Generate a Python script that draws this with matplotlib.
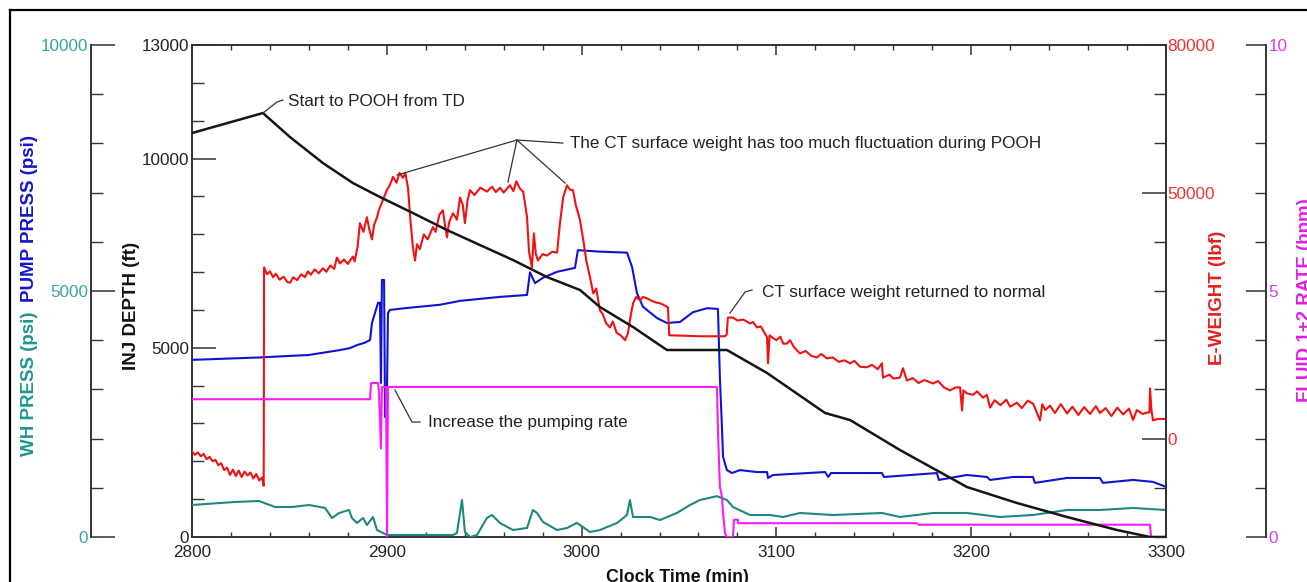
import matplotlib
matplotlib.use('Agg')
import matplotlib.pyplot as plt
from matplotlib.ticker import MultipleLocator, FixedLocator
from matplotlib.lines import Line2D

plt.rcParams['font.family'] = ['Liberation Sans', 'DejaVu Sans']

# ---------------- data ----------------
depth_t = [2800, 2836.4, 2850.3, 2867.2, 2882.6, 2896.5, 2913.4, 2930.9, 2947.8, 2964.8,
           2982.2, 2999.2, 3009.4, 3026.4, 3043.8, 3074.6, 3095.2, 3125.0, 3137.8, 3163.4,
           3197.8, 3223.5, 3249.2, 3274.8, 3291.8, 3300]
depth_ft = [10674, 11202, 10568, 9881, 9353, 8983, 8560, 8111, 7715, 7318,
            6869, 6526, 6077, 5548, 4941, 4941, 4333, 3276, 3091, 2299,
            1321, 898, 528, 185, 0, 0]

weight_t = [2800, 2801.5, 2803, 2804.5, 2806, 2807.5, 2809, 2810.5, 2812, 2813.5, 2815, 2816.5,
            2818, 2819.5, 2821, 2822.5, 2824, 2825.5, 2827, 2828.5, 2830, 2831.5, 2833, 2834.5,
            2836, 2836.8, 2837.0, 2838.5, 2840, 2841.6, 2843, 2845, 2847, 2849, 2850.3, 2852,
            2854, 2856, 2858, 2859.5, 2861, 2863, 2865, 2867.2, 2869, 2871, 2873, 2874.4, 2876,
            2878, 2880, 2882.6, 2883.5, 2885, 2886.2, 2888, 2889.8, 2891, 2892.4, 2893.5, 2895.0,
            2896, 2898.0, 2900, 2901.5, 2903.2, 2905, 2906.5, 2908.3, 2909.5, 2910.9, 2912,
            2913.4, 2914.5, 2915.5, 2917.0, 2919, 2921, 2923.7, 2925, 2927, 2928.8, 2930, 2930.9,
            2932, 2934.0, 2936, 2937.6, 2939, 2940.1, 2941.5, 2942.7, 2945, 2948, 2951.4, 2954,
            2956, 2958.1, 2960, 2963.2, 2965, 2966.5, 2968.4, 2970, 2972.0, 2973, 2974.5, 2975.5,
            2976.5, 2977.6, 2980, 2982.2, 2985, 2987.4, 2988.9, 2990.5, 2992.5, 2994, 2995.6,
            2997, 2999.2, 3001, 3002.5, 3004.3, 3006, 3007.5, 3009.4, 3011, 3012.5, 3014.6, 3016,
            3018, 3020, 3022.3, 3023.8, 3025, 3026.4, 3028, 3030.0, 3031.5, 3033.6, 3036, 3038,
            3040.2, 3042, 3044.3, 3045.0, 3060.8, 3073.6, 3074.5, 3075.1, 3077.7, 3080, 3083,
            3086.4, 3088, 3090, 3092, 3095.2, 3095.7, 3096.5, 3097.7, 3100, 3102, 3103.5, 3105.4,
            3107.0, 3109, 3112.1, 3115, 3118, 3120.8, 3123, 3126, 3129.0, 3132, 3135, 3137.8,
            3140, 3143, 3146.5, 3149, 3152, 3154.2, 3154.7, 3158, 3160, 3163.4, 3165.0, 3167.0,
            3170, 3173, 3176, 3180.4, 3183, 3186, 3189.1, 3192, 3194.3, 3195.3, 3196, 3197.8,
            3201, 3203, 3206.1, 3208, 3209.7, 3212, 3215, 3218, 3220, 3223.5, 3226, 3229, 3231.7,
            3233, 3235.3, 3236.5, 3238, 3240.5, 3243, 3246, 3249.2, 3252, 3255, 3258, 3261, 3264,
            3266.1, 3269, 3272, 3275, 3278, 3281, 3283.1, 3285, 3288, 3290.2, 3291.5, 3291.8,
            3292.5, 3293.3, 3296, 3300]
weight_lbf = [-2600, -3300, -2800, -3600, -3100, -4200, -3700, -4600, -4300, -5400, -5000, -6400,
              -5900, -7400, -6300, -7600, -6500, -7800, -6700, -7500, -6900, -8100, -7200, -8500,
              -7900, -9600, 34800, 33400, 34000, 32800, 33500, 32300, 32900, 31800, 31700, 32800,
              32200, 33400, 32800, 34000, 33300, 34400, 33600, 34600, 33900, 35200, 34500, 36800, 35600,
              36400, 35500, 37000, 36000, 39000, 43800, 42000, 45000, 42500, 40500, 43500, 45000,
              46500, 48500, 50500, 51500, 53200, 52000, 54000, 53000, 54000, 50900, 45000,
              38900, 36200, 39500, 38500, 41500, 40500, 43000, 42000, 45500, 46400, 43000, 40900,
              44000, 45800, 44500, 49000, 47500, 43800, 48500, 50500, 49500, 51000, 50200, 51200,
              50100, 51000, 50000, 51500, 50300, 52300, 50800, 50200, 45000, 38000, 34800, 41700,
              37500, 36200, 37500, 37200, 38000, 37800, 43800, 49000, 51500, 50600, 50500,
              47500, 44400, 40000, 36000, 32800, 29500, 30500, 26100, 25200, 23500, 22600, 23800,
              21500, 21000, 20000, 21400, 24500, 27500, 28800, 28100, 28800, 28500, 28000, 27700,
              27500, 27200, 26700, 21000, 20800, 20800, 21200, 24600, 24600, 24000, 24200,
              23400, 23700, 22600, 22800, 20600, 15300, 21000, 20600, 20000, 20700, 19300, 19300,
              20000, 18600, 17300, 17800, 16800, 16500, 17200, 16300, 16500, 15600, 15900, 15300,
              15800, 14600, 14500, 15000, 14100, 15300, 12400, 13000, 12200, 12400, 14300, 11800,
              12300, 11300, 11900, 11200, 11700, 10400, 9800, 10400, 10400, 5700, 9800, 9200,
              8900, 9600, 8300, 8900, 6300, 7800, 6800, 7900, 6500, 7300, 6200, 7700, 7100,
              6000, 3700, 7000, 5800, 6700, 5200, 7000, 5100, 6500, 4800, 6400, 5000, 6600,
              5200, 6200, 4600, 6300, 4900, 6100, 3800, 5800, 5000, 5300, 5300, 10200,
              6000, 3700, 4000, 4000]

pump_t = [2800, 2835, 2860, 2876, 2881.1, 2884.7, 2888.8, 2891.4, 2892.4, 2893.9, 2895.5, 2896.5,
          2897.0, 2897.5, 2898.6, 2899.1, 2899.9, 2900.6, 2901.6, 2910.4, 2927.3, 2937.6, 2958.1,
          2972.0, 2973.5, 2976.1, 2980.2, 2987.4, 2996.6, 2998.1, 3009.4, 3023.3, 3025.9, 3028.4,
          3031.5, 3038.7, 3043.8, 3050.5, 3057.2, 3064.4, 3070.0, 3071.0, 3072.1, 3072.6, 3074.6,
          3077.2, 3081.3, 3090.0, 3095.2, 3095.7, 3098.2, 3125.0, 3126.6, 3128.0, 3154.2, 3155.2,
          3182.4, 3183.4, 3197.8, 3208.1, 3209.7, 3221.5, 3231.7, 3232.7, 3249.2, 3266.1, 3267.6,
          3283.1, 3293.3, 3300]
pump_psi = [3600, 3650, 3700, 3800, 3840, 3900, 3950, 4005, 4350, 4550, 4760, 4760,
            3130, 5225, 5225, 2440, 2440, 4550, 4615, 4655, 4720, 4800, 4880,
            4920, 5380, 5160, 5270, 5390, 5470, 5830, 5800, 5780, 5490, 4960,
            4680, 4450, 4350, 4370, 4570, 4650, 4635, 3230, 2180, 1630, 1360,
            1300, 1360, 1320, 1320, 1200, 1260, 1320, 1220, 1300, 1300, 1220,
            1300, 1160, 1260, 1220, 1160, 1220, 1220, 1100, 1200, 1200, 1100,
            1160, 1120, 1020]

wh_t = [2800, 2822.1, 2834.4, 2842.6, 2851.3, 2860.1, 2868.3, 2871.9, 2875.5, 2880.6, 2882.1,
        2884.7, 2887.8, 2889.8, 2892.9, 2895.0, 2900.1, 2910.4, 2927, 2934.0, 2936.0, 2938.6,
        2940.1, 2942.7, 2946.3, 2951.4, 2954.0, 2958.1, 2964.8, 2972.0, 2975.0, 2977.1, 2980.2,
        2987.4, 2992.5, 2997.6, 3000.7, 3004.3, 3009.4, 3018.2, 3023.3, 3024.8, 3026.4, 3035.1,
        3040.2, 3048.9, 3055.6, 3060.8, 3069.5, 3074.6, 3077.7, 3086.4, 3096.7, 3103.4, 3112.1,
        3129.0, 3154.2, 3163.4, 3180.4, 3197.8, 3214.7, 3231.7, 3249.2, 3266.1, 3283.1, 3300]
wh_psi = [651, 712, 732, 610, 610, 650, 590, 386, 488, 549, 386,
          285, 386, 244, 407, 142, 41, 41, 41, 40, 81, 752,
          100, 0, 41, 386, 447, 285, 142, 183, 549, 488, 305,
          142, 183, 285, 203, 102, 142, 285, 447, 752, 407, 407,
          345, 488, 650, 752, 830, 752, 610, 447, 447, 407, 488,
          447, 488, 407, 488, 488, 407, 447, 549, 549, 590, 549]

rate_t = [2800, 2891.4, 2891.9, 2895.5, 2896.0, 2897.0, 2897.5, 2899.6, 2900.1, 2900.6,
          3069.5, 3070.0, 3071.0, 3072.1, 3072.6, 3073.6, 3074.6, 3077.7, 3078.2, 3080.3,
          3080.3, 3172, 3173, 3291.8, 3292.3, 3300]
rate_bpm = [2.80, 2.80, 3.13, 3.13, 2.95, 1.80, 3.05, 3.05, 0.0, 3.05,
            3.05, 2.17, 1.02, 0.81, 0.49, 0.08, 0.0, 0.0, 0.35, 0.35,
            0.28, 0.28, 0.25, 0.25, 0.0, 0.0]

x_ticks = [2800, 2900, 3000, 3100, 3200, 3300]
depth_ticks = [0, 5000, 10000, 13000]
press_ticks = [0, 5000, 10000]
weight_ticks = [0, 50000, 80000]
rate_ticks = [0, 5, 10]

# annotation texts (leader geometry in clock-time / depth units)
annotations = [
    ("Start to POOH from TD", [(2836.4, 11202), (2843.6, 11493), (2846.7, 11546)], (2849.5, 11519)),
    ("Increase the pumping rate", [(2904.2, 3884), (2912.9, 3038), (2917.0, 3038)], (2921.1, 3038)),
    ("CT surface weight returned to normal", [(3076.2, 5918), (3083.9, 6473), (3087.5, 6526)], (3092.6, 6473)),
]
fluct_text = "The CT surface weight has too much fluctuation during POOH"
fluct_hub = (2966.8, 10489)
fluct_targets = [(2905.2, 9564), (2962.2, 9379), (2991.5, 9353)]
fluct_end = (2990.4, 10409)
fluct_text_pos = (2994.0, 10409)

# ---------------- colours ----------------
C_BLACK = '#151515'
C_RED = '#f01212'
C_BLUE = '#1212d4'
C_TEAL = '#1f887e'
C_MAG = '#f81cf8'
C_SPINE = '#333333'

# ---------------- figure ----------------
W, H, DPI = 1307, 582, 100
fig = plt.figure(figsize=(W / DPI, H / DPI), dpi=DPI)
PL, PR, PT, PB = 192, 1166, 45, 537
ax = fig.add_axes([PL / W, 1 - PB / H, (PR - PL) / W, (PB - PT) / H])

FS = 12.3      # tick labels and notes
FSL = 13.5     # bold axis titles


def px2pt(p):
    return p * 72.0 / DPI


# figure frame (only top & left visible in the crop)
fig.add_artist(Line2D([10 / W, 10 / W], [0, 1 - 10 / H], transform=fig.transFigure, color='black', lw=1.6))
fig.add_artist(Line2D([10 / W, 1], [1 - 10 / H, 1 - 10 / H], transform=fig.transFigure, color='black', lw=1.6))

# main depth axis
ax.set_xlim(2800, 3300)
ax.set_ylim(0, 13000)
for s in ax.spines.values():
    s.set_color(C_SPINE)
    s.set_linewidth(1.4)
ax.xaxis.set_major_locator(FixedLocator(x_ticks))
ax.xaxis.set_minor_locator(MultipleLocator(20))
ax.yaxis.set_major_locator(FixedLocator(depth_ticks))
ax.yaxis.set_minor_locator(MultipleLocator(1000))
ax.tick_params(axis='x', which='major', direction='in', length=px2pt(10), width=1.1, top=True,
               labelsize=FS, colors=C_SPINE, labelcolor='#222222', pad=6)
ax.tick_params(axis='x', which='minor', direction='in', length=px2pt(5), width=1.0, top=True, colors=C_SPINE)
ax.tick_params(axis='y', which='major', direction='in', length=px2pt(24), width=1.1,
               labelsize=FS, colors=C_SPINE, labelcolor='#222222', pad=2)
ax.tick_params(axis='y', which='minor', direction='in', length=px2pt(12), width=1.0, colors=C_SPINE)

# pressure axis (far left)
ax_p = ax.twinx()
ax_p.set_ylim(0, 10000)
for k in ['right', 'top', 'bottom']:
    ax_p.spines[k].set_visible(False)
ax_p.spines['left'].set_visible(True)
ax_p.spines['left'].set_position(('axes', (91 - PL) / (PR - PL)))
ax_p.spines['left'].set_color(C_SPINE)
ax_p.spines['left'].set_linewidth(1.4)
ax_p.yaxis.set_ticks_position('left')
ax_p.yaxis.set_label_position('left')
ax_p.yaxis.set_major_locator(FixedLocator(press_ticks))
ax_p.yaxis.set_minor_locator(MultipleLocator(1000))
ax_p.tick_params(axis='y', which='major', direction='in', length=px2pt(24), width=1.1,
                 labelsize=FS, colors=C_SPINE, labelcolor='#3aa39c', pad=2)
ax_p.tick_params(axis='y', which='minor', direction='in', length=px2pt(12), width=1.0, colors=C_SPINE)

# E-weight axis (right of plot)
ax_w = ax.twinx()
ax_w.set_ylim(-20000, 80000)
for k in ['left', 'top', 'bottom']:
    ax_w.spines[k].set_visible(False)
ax_w.spines['right'].set_color(C_SPINE)
ax_w.spines['right'].set_linewidth(1.4)
ax_w.yaxis.set_major_locator(FixedLocator(weight_ticks))
ax_w.yaxis.set_minor_locator(MultipleLocator(10000))
ax_w.tick_params(axis='y', which='major', direction='in', length=px2pt(24), width=1.1,
                 labelsize=FS, colors=C_SPINE, labelcolor='#f03232', pad=1)
ax_w.tick_params(axis='y', which='minor', direction='in', length=px2pt(12), width=1.0, colors=C_SPINE)

# fluid rate axis (far right)
ax_f = ax.twinx()
ax_f.set_ylim(0, 10)
for k in ['left', 'top', 'bottom']:
    ax_f.spines[k].set_visible(False)
ax_f.spines['right'].set_position(('axes', (1266 - PL) / (PR - PL)))
ax_f.spines['right'].set_color(C_SPINE)
ax_f.spines['right'].set_linewidth(1.4)
ax_f.yaxis.set_major_locator(FixedLocator(rate_ticks))
ax_f.yaxis.set_minor_locator(MultipleLocator(1))
ax_f.tick_params(axis='y', which='major', direction='in', length=px2pt(20), width=1.1,
                 labelsize=FS, colors=C_SPINE, labelcolor='#d63ee6', pad=2)
ax_f.tick_params(axis='y', which='minor', direction='in', length=px2pt(11), width=1.0, colors=C_SPINE)

# ---------------- series ----------------
ax_p.plot(wh_t, wh_psi, color=C_TEAL, lw=1.5, zorder=2)
ax_p.plot(pump_t, pump_psi, color=C_BLUE, lw=1.5, zorder=3)
ax_f.plot(rate_t, rate_bpm, color=C_MAG, lw=1.5, zorder=2)
ax_w.plot(weight_t, weight_lbf, color=C_RED, lw=1.5, zorder=2)
# depth line on top
ax_top = ax.twinx()
ax_top.set_ylim(0, 13000)
ax_top.axis('off')
ax_top.plot(depth_t, depth_ft, color=C_BLACK, lw=1.8)

# ---------------- annotations ----------------
TXT = '#222222'
for text, pts, tpos in annotations:
    xs = [p[0] for p in pts]
    ys = [p[1] for p in pts]
    ax_top.plot(xs, ys, color='#333333', lw=0.9)
    ax_top.text(tpos[0], tpos[1], text, fontsize=FS, color=TXT, va='center', ha='left')
for tgt in fluct_targets:
    ax_top.plot([fluct_hub[0], tgt[0]], [fluct_hub[1], tgt[1]], color='#333333', lw=0.9)
ax_top.plot([fluct_hub[0], fluct_end[0]], [fluct_hub[1], fluct_end[1]], color='#333333', lw=0.9)
ax_top.text(fluct_text_pos[0], fluct_text_pos[1], fluct_text, fontsize=FS, color=TXT, va='center', ha='left')

# ---------------- axis titles ----------------
fig.text(30 / W, 1 - 384 / H, 'WH PRESS (psi)', rotation=90, color='#1f968c', fontsize=FSL,
         fontweight='bold', ha='center', va='center')
fig.text(30 / W, 1 - 219 / H, 'PUMP PRESS (psi)', rotation=90, color='#1515cc', fontsize=FSL,
         fontweight='bold', ha='center', va='center')
fig.text(131 / W, 1 - 306 / H, 'INJ DEPTH (ft)', rotation=90, color='#111111', fontsize=FSL,
         fontweight='bold', ha='center', va='center')
fig.text(1218 / W, 1 - 298 / H, 'E-WEIGHT (lbf)', rotation=90, color='#e81e1e', fontsize=FSL,
         fontweight='bold', ha='center', va='center')
fig.text(1305 / W, 1 - 300 / H, 'FLUID 1+2 RATE (bpm)', rotation=90, color='#e020e0', fontsize=FSL,
         fontweight='bold', ha='center', va='center')
fig.text(677 / W, 1 - 577 / H, 'Clock Time (min)', color='#111111', fontsize=12.8,
         fontweight='bold', ha='center', va='center')

fig.savefig('out.png', dpi=DPI)
